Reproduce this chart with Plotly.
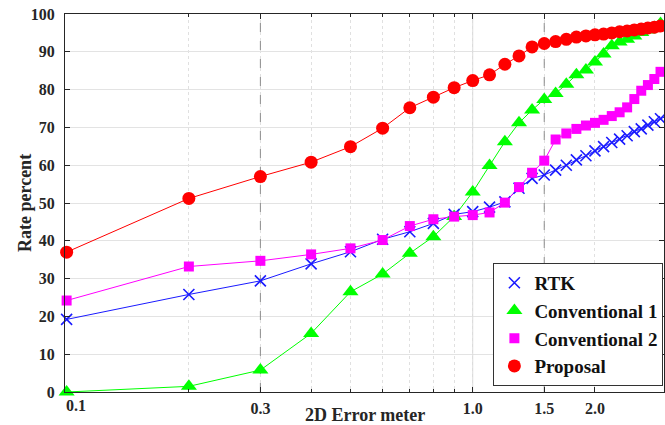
import plotly.graph_objects as go

x_err = [0.1, 0.2, 0.3, 0.4, 0.5, 0.6, 0.7, 0.8, 0.9, 1.0,
         1.1, 1.2, 1.3, 1.4, 1.5, 1.6, 1.7, 1.8, 1.9, 2.0,
         2.1, 2.2, 2.3, 2.4, 2.5, 2.6, 2.7, 2.8, 2.9, 3.0]

rtk = [19.2, 25.8, 29.4, 33.9, 37.1, 40.4, 42.4, 44.6, 47.0, 47.7,
       48.9, 50.3, 53.9, 56.5, 57.4, 58.7, 60.0, 61.4, 62.5, 63.8,
       64.9, 66.0, 66.9, 67.8, 68.9, 69.6, 70.6, 71.5, 72.3, 73.0]

conv1 = [0.0, 1.5, 5.8, 15.5, 26.5, 31.2, 36.7, 41.1, 46.4, 52.9,
         59.9, 66.2, 71.2, 74.6, 77.4, 79.0, 81.4, 83.9, 85.2, 87.3,
         89.4, 91.6, 92.6, 93.3, 94.2, 95.1, 95.8, 96.4, 97.5, 98.3]

conv2 = [24.2, 33.2, 34.7, 36.4, 38.0, 40.2, 43.9, 45.7, 46.4, 46.8,
         47.5, 50.1, 54.2, 58.0, 61.2, 66.8, 68.4, 69.6, 70.5, 71.2,
         72.0, 73.0, 74.0, 75.3, 77.5, 79.7, 81.2, 82.8, 84.7, 86.5]

proposal = [37.0, 51.2, 57.0, 60.8, 64.9, 69.8, 75.2, 78.0, 80.5, 82.4,
            83.9, 86.7, 88.9, 91.3, 92.2, 92.7, 93.3, 93.9, 94.2, 94.5,
            94.7, 95.0, 95.3, 95.5, 95.8, 96.0, 96.3, 96.5, 96.8, 97.0]

series_names = ["RTK", "Conventional 1", "Conventional 2", "Proposal"]

x_tick_vals = [0.3, 1.0, 1.5, 2.0]
x_tick_text = ["0.3", "1.0", "1.5", "2.0"]
x_minor_vals = [0.2, 0.4, 0.5, 0.6, 0.7, 0.8, 0.9]
y_tick_vals = [0, 10, 20, 30, 40, 50, 60, 70, 80, 90, 100]
dashed_refs = [0.3, 1.5]
solid_refs = [1.0]

FONT = "Liberation Serif"
TXT = "#262626"

fig = go.Figure()

for xv in solid_refs:
    fig.add_trace(go.Scatter(x=[xv, xv], y=[0, 100], mode="lines",
                             line=dict(color="#dcdcdc", width=1),
                             showlegend=False, hoverinfo="skip"))
for xv in dashed_refs:
    fig.add_trace(go.Scatter(x=[xv, xv], y=[0, 100], mode="lines",
                             line=dict(color="#8c8c8c", width=1, dash="dash"),
                             showlegend=False, hoverinfo="skip"))

styles = [
    (rtk, "#1a1aff", dict(symbol="x-thin", size=11, line=dict(color="#1a1aff", width=1.6))),
    (conv1, "#00ff00", dict(symbol="triangle-up", size=14, color="#00ff00")),
    (conv2, "#ff00ff", dict(symbol="square", size=10, color="#ff00ff")),
    (proposal, "#ff0000", dict(symbol="circle", size=13, color="#ff0000")),
]

for name, (vals, col, mk) in zip(series_names, styles):
    fig.add_trace(go.Scatter(x=x_err, y=vals, mode="lines", name=name,
                             line=dict(color=col, width=1), showlegend=False))
for name, (vals, col, mk) in zip(series_names, styles):
    fig.add_trace(go.Scatter(x=x_err, y=vals, mode="markers", name=name,
                             marker=mk, cliponaxis=False))

fig.update_layout(
    width=665, height=425,
    margin=dict(l=65, r=1, t=14, b=33, autoexpand=False),
    paper_bgcolor="white", plot_bgcolor="white",
    font=dict(family=FONT, size=16, color=TXT, weight="bold"),
    showlegend=True,
    legend=dict(x=0.999, y=0.016, xanchor="right", yanchor="bottom",
                bgcolor="white", bordercolor="#333333", borderwidth=1,
                font=dict(family=FONT, size=19, color="#111111", weight="bold"),
                itemwidth=30, tracegroupgap=0, entrywidth=160),
    xaxis=dict(type="log", range=[-1.004, 0.471], automargin=False,
               tickvals=x_tick_vals, ticktext=x_tick_text,
               showgrid=True, gridcolor="#e0e0e0", griddash="dot",
               ticks="inside", ticklen=5, tickcolor="#262626",
               showline=True, linecolor="#262626", linewidth=1, mirror="ticks",
               zeroline=False, ticklabelstandoff=2,
               tickfont=dict(family=FONT, size=16, color=TXT, weight="bold"),
               minor=dict(tickvals=x_minor_vals, ticks="inside", ticklen=3,
                          tickcolor="#262626", showgrid=True,
                          gridcolor="#e0e0e0", griddash="dot")),
    yaxis=dict(range=[0, 100], tickvals=y_tick_vals, automargin=False,
               showgrid=True, gridcolor="#e3e3e3", gridwidth=1,
               ticks="inside", ticklen=5, tickcolor="#262626",
               showline=True, linecolor="#262626", linewidth=1, mirror="ticks",
               zeroline=False, ticklabelstandoff=6,
               tickfont=dict(family=FONT, size=16, color=TXT, weight="bold")),
)

fig.add_annotation(x=-1.0, y=0, xref="x", yref="y", text="0.1", showarrow=False,
                   xanchor="center", yanchor="top", xshift=9, yshift=-3,
                   font=dict(family=FONT, size=16, color=TXT, weight="bold"))
fig.add_annotation(x=0.5, y=0, xref="paper", yref="paper", text="2D Error meter",
                   showarrow=False, xanchor="center", yanchor="middle", yshift=-23,
                   font=dict(family=FONT, size=18, color=TXT, weight="bold"))
fig.add_annotation(x=0, y=0.5, xref="paper", yref="paper", text="Rate percent",
                   showarrow=False, xanchor="center", yanchor="middle", xshift=-40,
                   textangle=-90,
                   font=dict(family=FONT, size=18, color=TXT, weight="bold"))

fig.write_html("out.html", config={"displayModeBar": False},
               post_script="document.body.style.margin='0';")
